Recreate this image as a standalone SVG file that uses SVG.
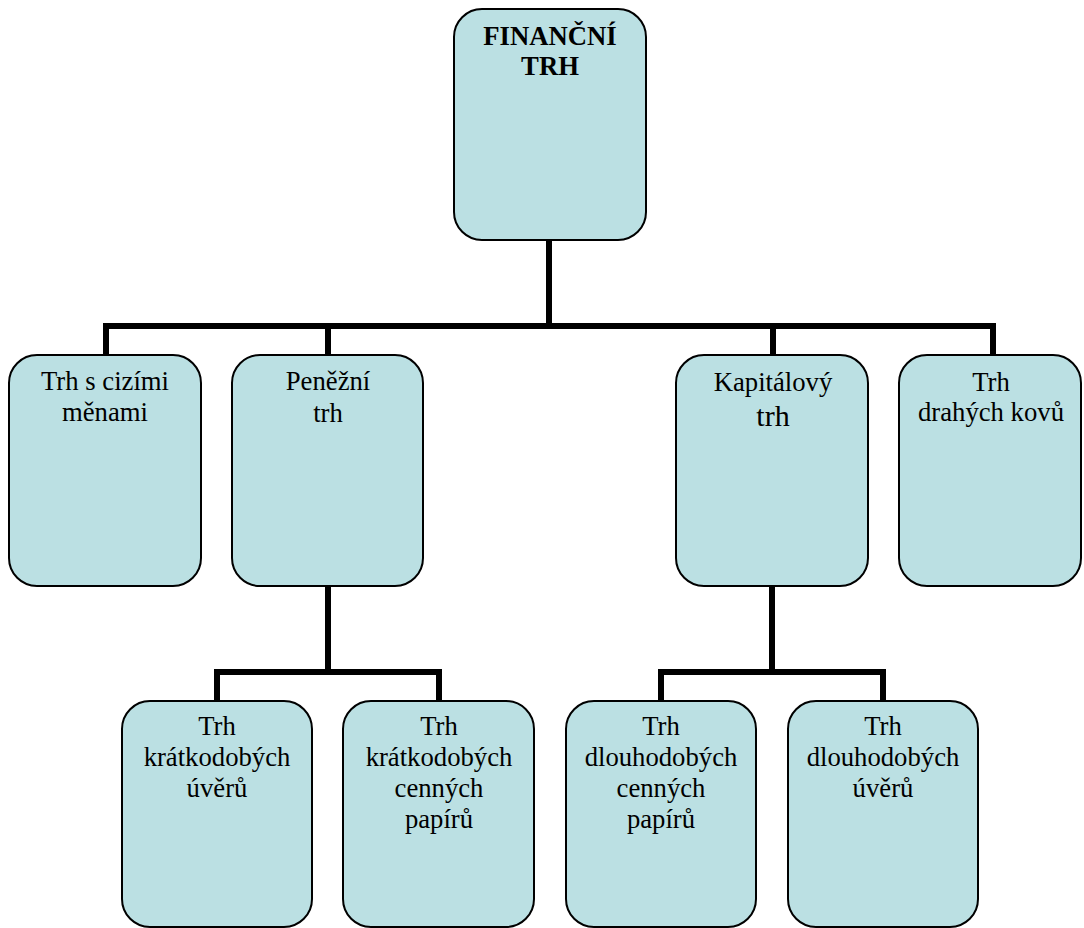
<svg xmlns="http://www.w3.org/2000/svg" width="1084" height="928" viewBox="0 0 1084 928">
<style>
.box{fill:#BBE0E3;stroke:#000;stroke-width:2}
.t{font-size:26.7px;fill:#000;text-anchor:middle}
.b{font-weight:bold}
.c{fill:none;stroke:#000;stroke-width:6;stroke-linecap:butt;stroke-linejoin:miter}
</style>
<rect width="1084" height="928" fill="#fff"/>
<g id="connectors">
<path class="c" d="M549,240 V326"/>
<path class="c" d="M106,355 V326 H993 V355"/>
<path class="c" d="M328,326 V355"/>
<path class="c" d="M773,326 V355"/>
<path class="c" d="M328,586 V672"/>
<path class="c" d="M217,701 V672 H439 V701"/>
<path class="c" d="M772,586 V672"/>
<path class="c" d="M661,701 V672 H883 V701"/>
</g>
<g font-family="Liberation Serif, Times New Roman, serif">
<g id="n_root">
<rect class="box" x="454" y="9" width="192" height="231" rx="28"/>
<text class="t b" x="550" y="45" font-family="Liberation Serif, serif">FINANČNÍ</text>
<text class="t b" x="550" y="75" font-family="Liberation Serif, serif">TRH</text>
</g>
<g id="n_cizi">
<rect class="box" x="9" y="355" width="192" height="231" rx="28"/>
<text class="t" x="105" y="390" font-family="Liberation Serif, serif">Trh s cizími</text>
<text class="t" x="105" y="421" font-family="Liberation Serif, serif">měnami</text>
</g>
<g id="n_penezni">
<rect class="box" x="232" y="355" width="191" height="231" rx="28"/>
<text class="t" x="328" y="390" font-family="Liberation Serif, serif">Peněžní</text>
<text class="t" x="328" y="422" font-family="Liberation Serif, serif">trh</text>
</g>
<g id="n_kapital">
<rect class="box" x="676" y="355" width="192" height="231" rx="28"/>
<text class="t" x="773" y="391" font-family="Liberation Serif, serif">Kapitálový</text>
<text class="t" x="773" y="426" font-family="Liberation Serif, serif" style="font-size:30px">trh</text>
</g>
<g id="n_kovy">
<rect class="box" x="899" y="355" width="182" height="231" rx="28"/>
<text class="t" x="991" y="391" font-family="Liberation Serif, serif">Trh</text>
<text class="t" x="991" y="421" font-family="Liberation Serif, serif">drahých kovů</text>
</g>
<g id="n_kratk_uvery">
<rect class="box" x="122" y="701" width="190" height="226" rx="28"/>
<text class="t" x="217" y="735" font-family="Liberation Serif, serif">Trh</text>
<text class="t" x="217" y="766" font-family="Liberation Serif, serif">krátkodobých</text>
<text class="t" x="217" y="797" font-family="Liberation Serif, serif">úvěrů</text>
</g>
<g id="n_kratk_cp">
<rect class="box" x="343" y="701" width="191" height="226" rx="28"/>
<text class="t" x="439" y="735" font-family="Liberation Serif, serif">Trh</text>
<text class="t" x="439" y="766" font-family="Liberation Serif, serif">krátkodobých</text>
<text class="t" x="439" y="797" font-family="Liberation Serif, serif">cenných</text>
<text class="t" x="439" y="828" font-family="Liberation Serif, serif">papírů</text>
</g>
<g id="n_dlouh_cp">
<rect class="box" x="566" y="701" width="190" height="226" rx="28"/>
<text class="t" x="661" y="735" font-family="Liberation Serif, serif">Trh</text>
<text class="t" x="661" y="766" font-family="Liberation Serif, serif">dlouhodobých</text>
<text class="t" x="661" y="797" font-family="Liberation Serif, serif">cenných</text>
<text class="t" x="661" y="828" font-family="Liberation Serif, serif">papírů</text>
</g>
<g id="n_dlouh_uvery">
<rect class="box" x="788" y="701" width="190" height="226" rx="28"/>
<text class="t" x="883" y="735" font-family="Liberation Serif, serif">Trh</text>
<text class="t" x="883" y="766" font-family="Liberation Serif, serif">dlouhodobých</text>
<text class="t" x="883" y="797" font-family="Liberation Serif, serif">úvěrů</text>
</g>
</g>
</svg>
